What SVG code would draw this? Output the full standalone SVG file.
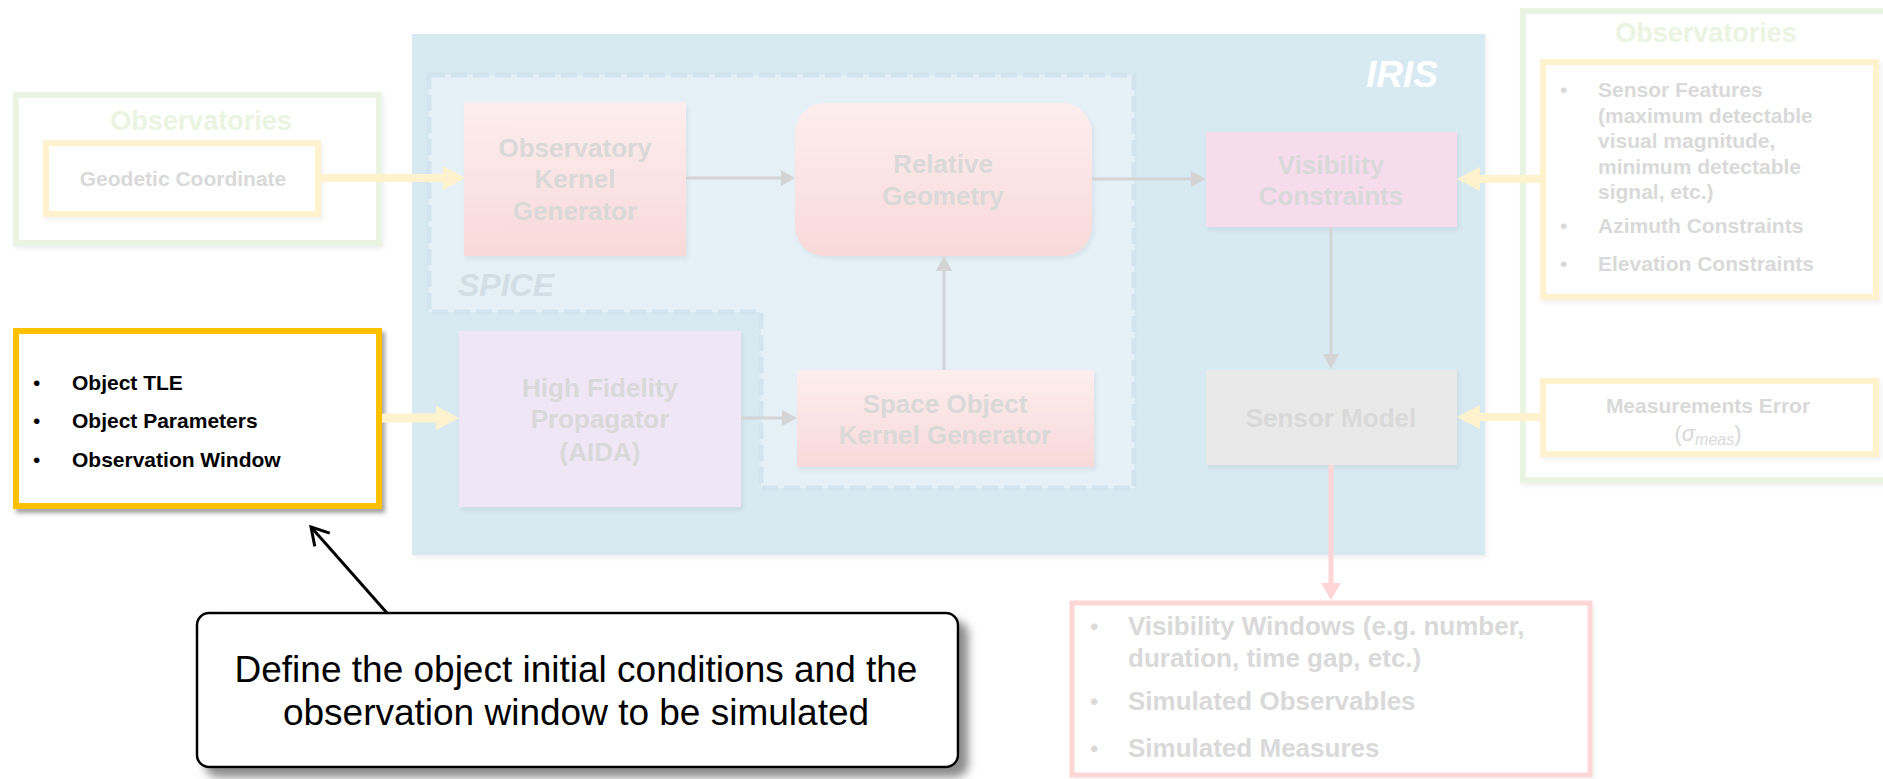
<svg xmlns="http://www.w3.org/2000/svg" width="1883" height="779" viewBox="0 0 1883 779">
  <defs>
    <linearGradient id="pinkFill" x1="0" y1="0" x2="0" y2="1">
      <stop offset="0" stop-color="#fdeeee"/>
      <stop offset="1" stop-color="#f9d9da"/>
    </linearGradient>
    <filter id="softShadow" x="-5%" y="-5%" width="115%" height="120%">
      <feDropShadow dx="2" dy="3" stdDeviation="2" flood-color="#000" flood-opacity="0.06"/>
    </filter>
    <filter id="boxShadow" x="-5%" y="-5%" width="115%" height="120%">
      <feDropShadow dx="3" dy="4" stdDeviation="2" flood-color="#555" flood-opacity="0.55"/>
    </filter>
    <filter id="calloutShadow" x="-5%" y="-10%" width="115%" height="130%">
      <feDropShadow dx="9" dy="9" stdDeviation="5" flood-color="#777" flood-opacity="0.85"/>
    </filter>
    <marker id="openHead" viewBox="0 0 24 24" markerWidth="24" markerHeight="24" refX="20" refY="12" orient="auto" markerUnits="userSpaceOnUse">
      <path d="M3,2 L20,12 L3,22" fill="none" stroke="#000" stroke-width="3" stroke-linejoin="miter"/>
    </marker>
    <style>
      text { font-family: "Liberation Sans", Arial, Helvetica, sans-serif; }
      .title { font-size: 26px; font-weight: bold; fill: #d9d9d9; text-anchor: middle; }
      .obsTitle { font-size: 27px; font-weight: bold; fill: #eaf4e1; text-anchor: middle; }
      .small { font-size: 21px; font-weight: bold; fill: #d9d9d9; }
      .smallMid { font-size: 21px; font-weight: bold; fill: #d9d9d9; text-anchor: middle; }
      .out { font-size: 26px; font-weight: bold; fill: #d9d9d9; }
      .bul { font-size: 21px; fill: #d9d9d9; }
      .bulOut { font-size: 24px; fill: #d9d9d9; }
      .input { font-size: 21px; font-weight: bold; fill: #000; }
      .inBul { font-size: 21px; fill: #000; }
      .greenBox { fill: #fff; stroke: #ebf4e2; stroke-width: 6; }
      .yellowBox { fill: #fff; stroke: #fff2cc; stroke-width: 6; }
      .thick { fill: #fff2cc; }
      .thin { stroke: #d4d4d4; stroke-width: 3; fill: none; }
      .thinHead { fill: #d4d4d4; }
    </style>
  </defs>

  <rect x="0" y="0" width="1883" height="779" fill="#fff"/>

  <!-- IRIS container -->
  <g id="iris">
    <rect x="412" y="34" width="1073" height="521" fill="#d7e9f1" filter="url(#softShadow)"/>
    <text x="1438" y="87" font-size="37" font-weight="bold" font-style="italic" fill="#ffffff" text-anchor="end">IRIS</text>
  </g>

  <!-- SPICE region (L-shaped) -->
  <g id="spice">
    <path d="M429,75 H1134 V488 H761 V312 H429 Z" fill="#e5f1f7" stroke="#d2e4f0" stroke-width="5" stroke-dasharray="16 6"/>
    <text x="458" y="296" font-size="32" font-weight="bold" font-style="italic" fill="#d3dde5">SPICE</text>
  </g>

  <!-- Left observatory input -->
  <g id="obs-left">
    <rect class="greenBox" x="16" y="95" width="363" height="148" filter="url(#softShadow)"/>
    <text class="obsTitle" x="201" y="130">Observatories</text>
    <rect class="yellowBox" x="46" y="143" width="272" height="71" filter="url(#softShadow)"/>
    <text class="smallMid" x="183" y="186">Geodetic Coordinate</text>
  </g>

  <!-- Object input box -->
  <g id="object-input">
    <rect x="16" y="331" width="363" height="175" fill="#fff" stroke="#ffc000" stroke-width="6" filter="url(#boxShadow)"/>
    <text class="inBul" x="33" y="390">•</text>
    <text class="input" x="72" y="390">Object TLE</text>
    <text class="inBul" x="33" y="428">•</text>
    <text class="input" x="72" y="428">Object Parameters</text>
    <text class="inBul" x="33" y="467">•</text>
    <text class="input" x="72" y="467">Observation Window</text>
  </g>

  <g id="obs-kernel">
    <rect x="464" y="102" width="222" height="154" fill="url(#pinkFill)" filter="url(#softShadow)"/>
    <text class="title" x="575" y="157">Observatory</text>
    <text class="title" x="575" y="188">Kernel</text>
    <text class="title" x="575" y="220">Generator</text>
  </g>

  <g id="relative-geometry">
    <rect x="795" y="103" width="297" height="153" rx="30" ry="30" fill="url(#pinkFill)" filter="url(#softShadow)"/>
    <text class="title" x="943" y="173">Relative</text>
    <text class="title" x="943" y="205">Geometry</text>
  </g>

  <g id="propagator">
    <rect x="459" y="331" width="282" height="176" fill="#efe7f5" filter="url(#softShadow)"/>
    <text class="title" x="600" y="397">High Fidelity</text>
    <text class="title" x="600" y="428">Propagator</text>
    <text class="title" x="600" y="461">(AIDA)</text>
  </g>

  <g id="object-kernel">
    <rect x="797" y="370" width="297" height="97" fill="url(#pinkFill)" filter="url(#softShadow)"/>
    <text class="title" x="945" y="413">Space Object</text>
    <text class="title" x="945" y="444">Kernel Generator</text>
  </g>

  <g id="visibility">
    <rect x="1206" y="132" width="251" height="95" fill="#f6dcec" filter="url(#softShadow)"/>
    <text class="title" x="1331" y="174">Visibility</text>
    <text class="title" x="1331" y="205">Constraints</text>
  </g>

  <g id="sensor-model">
    <rect x="1206" y="370" width="251" height="95" fill="#e9e9e9" filter="url(#softShadow)"/>
    <text class="title" x="1331" y="427">Sensor Model</text>
  </g>

  <!-- Right observatory inputs -->
  <g id="obs-right">
    <rect class="greenBox" x="1523" y="11" width="380" height="469" filter="url(#softShadow)"/>
    <text class="obsTitle" x="1706" y="42">Observatories</text>
  </g>

  <g id="sensor-features">
    <rect class="yellowBox" x="1543" y="62" width="333" height="235" filter="url(#softShadow)"/>
    <text class="bul" x="1560" y="97">•</text>
    <text class="small" x="1598" y="97">Sensor Features</text>
    <text class="small" x="1598" y="123">(maximum detectable</text>
    <text class="small" x="1598" y="148">visual magnitude,</text>
    <text class="small" x="1598" y="174">minimum detectable</text>
    <text class="small" x="1598" y="199">signal, etc.)</text>
    <text class="bul" x="1560" y="233">•</text>
    <text class="small" x="1598" y="233">Azimuth Constraints</text>
    <text class="bul" x="1560" y="271">•</text>
    <text class="small" x="1598" y="271">Elevation Constraints</text>
  </g>

  <g id="measurement-error">
    <rect class="yellowBox" x="1543" y="381" width="333" height="73" filter="url(#softShadow)"/>
    <text class="smallMid" x="1708" y="413">Measurements Error</text>
    <text x="1708" y="441" font-size="22" fill="#d9d9d9" text-anchor="middle" font-family="'Liberation Serif', 'DejaVu Serif', serif"><tspan>(</tspan><tspan font-style="italic">σ</tspan><tspan font-style="italic" font-size="16" dy="4">meas</tspan><tspan dy="-4">)</tspan></text>
  </g>

  <g id="outputs">
    <rect x="1072" y="603" width="518" height="172" fill="#fff" stroke="#ffd6d6" stroke-width="5" filter="url(#softShadow)"/>
    <text class="bulOut" x="1090" y="635">•</text>
    <text class="out" x="1128" y="635">Visibility Windows (e.g. number,</text>
    <text class="out" x="1128" y="667">duration, time gap, etc.)</text>
    <text class="bulOut" x="1090" y="710">•</text>
    <text class="out" x="1128" y="710">Simulated Observables</text>
    <text class="bulOut" x="1090" y="757">•</text>
    <text class="out" x="1128" y="757">Simulated Measures</text>
  </g>

  <g id="callout">
    <rect x="197" y="613" width="761" height="154" rx="12" ry="12" fill="#fff" stroke="#000" stroke-width="2.5" filter="url(#calloutShadow)"/>
    <text x="576" y="682" font-size="37" fill="#000" text-anchor="middle">Define the object initial conditions and the</text>
    <text x="576" y="725" font-size="37" fill="#000" text-anchor="middle">observation window to be simulated</text>
  </g>

  <!-- Connectors -->
  <g id="connectors">
    <!-- thick input arrows -->
    <path class="thick" d="M321,174 H443 V166 L465,178 L443,190 V182 H321 Z"/>
    <path class="thick" d="M382,413.5 H436 V406 L459,418 L436,430 V422.5 H382 Z"/>
    <path class="thick" d="M1540,175 H1480 V167 L1457,179 L1480,191 V183 H1540 Z"/>
    <path class="thick" d="M1540,413 H1480 V405 L1457,417 L1480,429 V421 H1540 Z"/>

    <!-- internal flow -->
    <line class="thin" x1="686" y1="178" x2="782" y2="178"/>
    <path class="thinHead" d="M781,170 L795,178 L781,186 Z"/>
    <line class="thin" x1="1092" y1="179" x2="1192" y2="179"/>
    <path class="thinHead" d="M1191,171 L1206,179 L1191,187 Z"/>
    <line class="thin" x1="944" y1="370" x2="944" y2="270"/>
    <path class="thinHead" d="M936,271 L944,256 L952,271 Z"/>
    <line class="thin" x1="741" y1="418" x2="783" y2="418"/>
    <path class="thinHead" d="M782,410 L797,418 L782,426 Z"/>
    <line class="thin" x1="1331" y1="227" x2="1331" y2="355"/>
    <path class="thinHead" d="M1323,354 L1331,369 L1339,354 Z"/>

    <!-- output arrow -->
    <line x1="1331" y1="465" x2="1331" y2="585" stroke="#ffd5d5" stroke-width="5"/>
    <path d="M1321,583 L1331,600 L1341,583 Z" fill="#ffd5d5"/>

    <!-- callout pointer -->
    <line x1="387" y1="613" x2="311" y2="527" stroke="#000" stroke-width="3" marker-end="url(#openHead)"/>
  </g>
</svg>
